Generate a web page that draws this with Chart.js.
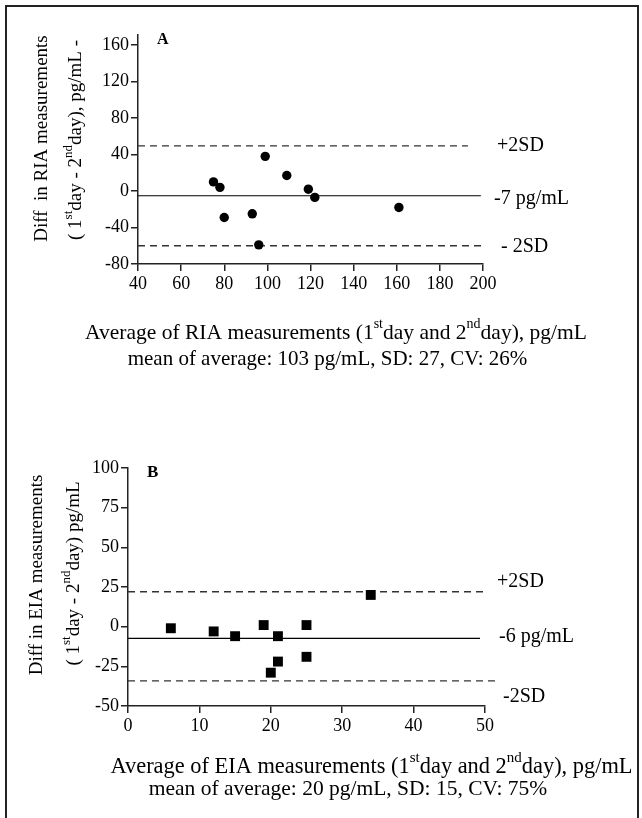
<!DOCTYPE html>
<html>
<head>
<meta charset="utf-8">
<script src="https://cdn.jsdelivr.net/npm/chart.js@4.4.1/dist/chart.umd.min.js"></script>
<style>
  body { margin: 0; background: #fff; }
  #frame { position: absolute; left: 5px; top: 5px; width: 630px; height: 840px; border: 2px solid #222; }
  canvas { position: absolute; left: 0; }
</style>
</head>
<body>
<div id="frame"></div>
<canvas id="chartA" width="642" height="400" style="top:0"></canvas>
<canvas id="chartB" width="642" height="418" style="top:400px"></canvas>
<script>
// panel A: RIA
const riaAverage = [75, 78, 80, 93, 96, 99, 109, 119, 122, 161];
const riaDifference = [10, 4, -29, -25, -59, 38, 17, 2, -7, -18];
const riaXTicks = [40, 60, 80, 100, 120, 140, 160, 180, 200];
const riaYTicks = [-80, -40, 0, 40, 80, 120, 160];
// upper limit, mean, lower limit and where each line stops on the x axis
const riaLimits = [49.5, -5.2, -60];
const riaLimitEnds = [193, 199, 201];

// panel B: EIA
const eiaAverage = [6, 12, 15, 19, 20, 21, 21, 25, 25, 34];
const eiaDifference = [-1, -3, -6, 1, -29, -6, -22, 1, -19, 20];
const eiaXTicks = [0, 10, 20, 30, 40, 50];
const eiaYTicks = [-50, -25, 0, 25, 50, 75, 100];
const eiaLimits = [22, -7.4, -34.2];
const eiaLimitEnds = [50.3, 49.3, 51.7];

const FONT = "'Liberation Serif', 'Times New Roman', serif";
const AXIS = '#222';
const sup = t => ({ t: t, sup: true });

function drawRich(ctx, item) {
  const size = item.size;
  const supSize = Math.round(size * 0.66);
  const weight = item.bold ? 'bold ' : '';
  const parts = item.parts.map(p => typeof p === 'string' ? { t: p, sup: false } : p);
  let w = 0;
  parts.forEach(p => {
    ctx.font = weight + (p.sup ? supSize : size) + 'px ' + FONT;
    p.w = ctx.measureText(p.t).width;
    w += p.w;
  });
  ctx.save();
  ctx.translate(item.x, item.y);
  if (item.rotate) ctx.rotate(-Math.PI / 2);
  let x = item.align === 'center' ? -w / 2 : 0;
  ctx.fillStyle = '#000';
  ctx.textAlign = 'left';
  ctx.textBaseline = item.baseline || 'alphabetic';
  parts.forEach(p => {
    ctx.font = weight + (p.sup ? supSize : size) + 'px ' + FONT;
    ctx.fillText(p.t, x, p.sup ? -size * 0.5 : 0);
    x += p.w;
  });
  ctx.restore();
}

function labelPlugin(items) {
  return {
    id: 'panelLabels',
    afterDraw(chart) {
      items.forEach(it => drawRich(chart.ctx, it));
    }
  };
}

function limitLine(value, xStart, xEnd, dashed) {
  return {
    type: 'scatter',
    data: [{ x: xStart, y: value }, { x: xEnd, y: value }],
    showLine: true,
    borderColor: dashed ? '#333' : '#000',
    borderWidth: dashed ? 1.3 : 1.2,
    borderDash: dashed ? [7, 5] : [],
    pointRadius: 0,
    clip: false
  };
}

function axis(min, max, ticks, size) {
  return {
    type: 'linear',
    min: min,
    max: max,
    afterBuildTicks: s => { s.ticks = ticks.map(v => ({ value: v })); },
    afterFit: s => { if (s.isHorizontal()) { s.height = 30; } else { s.width = size; } },
    grid: { display: true, drawOnChartArea: false, drawTicks: true, tickLength: 7, color: AXIS, lineWidth: 1.5 },
    border: { display: true, color: AXIS, width: 1.5 },
    ticks: { color: '#000', font: { family: FONT, size: 18 }, padding: 2, autoSkip: false, maxRotation: 0 }
  };
}

function makePanel(id, xs, ys, style, radius, limits, ends, xMin, xMax, xTicks, yMin, yMax, yTicks, yWidth, padding, labels) {
  const points = xs.map((x, i) => ({ x: x, y: ys[i] }));
  return new Chart(document.getElementById(id), {
    type: 'scatter',
    data: {
      datasets: [
        {
          data: points,
          pointStyle: style,
          pointRadius: radius,
          pointBackgroundColor: '#000',
          pointBorderColor: '#000',
          pointBorderWidth: 0,
          clip: false
        },
        limitLine(limits[0], xMin, ends[0], true),
        limitLine(limits[1], xMin, ends[1], false),
        limitLine(limits[2], xMin, ends[2], true)
      ]
    },
    options: {
      responsive: false,
      animation: false,
      layout: { padding: padding },
      scales: {
        x: axis(xMin, xMax, xTicks, 0),
        y: axis(yMin, yMax, yTicks, yWidth)
      },
      plugins: { legend: { display: false }, tooltip: { enabled: false } }
    },
    plugins: [labelPlugin(labels)]
  });
}

makePanel('chartA', riaAverage, riaDifference, 'circle', 4.7, riaLimits, riaLimitEnds,
  40, 200, riaXTicks, -80, 171, riaYTicks, 138,
  { left: 0, top: 35, right: 159, bottom: 106 },
  [
    { parts: ['A'], x: 157, y: 40, size: 16, bold: true, baseline: 'middle' },
    { parts: ['+2SD'], x: 497, y: 146, size: 20, baseline: 'middle' },
    { parts: ['-7 pg/mL'], x: 494, y: 199, size: 20, baseline: 'middle' },
    { parts: ['- 2SD'], x: 501, y: 247, size: 20, baseline: 'middle' },
    { parts: ['Diff  in RIA measurements'], x: 47, y: 138.5, size: 19, rotate: true, align: 'center' },
    { parts: ['( 1', sup('st'), 'day - 2', sup('nd'), 'day), pg/mL -'], x: 81, y: 140, size: 19, rotate: true, align: 'center' },
    { parts: ['Average of RIA measurements (1', sup('st'), 'day and 2', sup('nd'), 'day), pg/mL'], x: 336, y: 339, size: 21.5, align: 'center' },
    { parts: ['mean of average: 103 pg/mL, SD: 27, CV: 26%'], x: 327.5, y: 365, size: 21, align: 'center' }
  ]);

makePanel('chartB', eiaAverage, eiaDifference, 'rect', 7, eiaLimits, eiaLimitEnds,
  0, 50, eiaXTicks, -50, 100, eiaYTicks, 128,
  { left: 0, top: 68, right: 157, bottom: 82 },
  [
    { parts: ['B'], x: 147, y: 73, size: 17, bold: true, baseline: 'middle' },
    { parts: ['+2SD'], x: 497, y: 182, size: 20, baseline: 'middle' },
    { parts: ['-6 pg/mL'], x: 499, y: 237, size: 20, baseline: 'middle' },
    { parts: ['-2SD'], x: 503, y: 297, size: 20, baseline: 'middle' },
    { parts: ['Diff in EIA measurements'], x: 42, y: 175, size: 19, rotate: true, align: 'center' },
    { parts: ['( 1', sup('st'), 'day - 2', sup('nd'), 'day) pg/mL'], x: 79, y: 173.5, size: 19, rotate: true, align: 'center' },
    { parts: ['Average of EIA measurements (1', sup('st'), 'day and 2', sup('nd'), 'day), pg/mL'], x: 371.5, y: 373, size: 22.4, align: 'center' },
    { parts: ['mean of average: 20 pg/mL, SD: 15, CV: 75%'], x: 348, y: 395, size: 21.5, align: 'center' }
  ]);
</script>
</body>
</html>
